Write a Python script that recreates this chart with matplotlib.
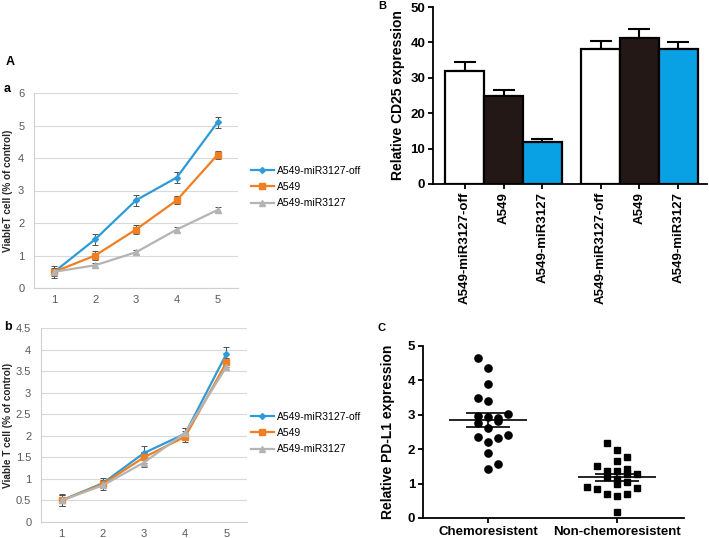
import numpy as np
import matplotlib
matplotlib.use("Agg")
import matplotlib.pyplot as plt

plt.rcParams['font.family'] = ['Liberation Sans', 'DejaVu Sans']

# ---- panel A (a, b): viable T cells ----
days = [1, 2, 3, 4, 5]
series_names = ["A549-miR3127-off", "A549", "A549-miR3127"]
line_colors = ["#2E9BD9", "#F07F22", "#B4B4B4"]
line_markers = ["D", "s", "^"]
marker_sizes = [3, 5, 4.5]

viable_a = [[0.5, 1.5, 2.7, 3.4, 5.1],
            [0.5, 1.0, 1.8, 2.7, 4.1],
            [0.5, 0.7, 1.1, 1.8, 2.4]]
err_a = [[0.12, 0.17, 0.17, 0.17, 0.17],
         [0.10, 0.14, 0.13, 0.12, 0.13],
         [0.18, 0.08, 0.08, 0.08, 0.08]]

viable_b = [[0.5, 0.9, 1.6, 2.05, 3.9],
            [0.5, 0.88, 1.5, 1.98, 3.7],
            [0.5, 0.85, 1.38, 2.07, 3.6]]
err_b = [[0.13, 0.12, 0.16, 0.13, 0.15],
         [0.12, 0.10, 0.12, 0.13, 0.10],
         [0.14, 0.10, 0.10, 0.12, 0.08]]

# ---- panel B: CD25 ----
cd25_labels = ["A549-miR3127-off", "A549", "A549-miR3127"] * 2
cd25 = [32, 25, 12, 38, 41.3, 38]
cd25_err = [2.4, 1.5, 0.8, 2.3, 2.6, 2.2]
bar_colors = ["white", "#231815", "#0AA0E4"] * 2

# ---- panel C: PD-L1 ----
groups = ["Chemoresistent", "Non-chemoresistent"]
chemo = [4.64, 4.35, 3.89, 3.50, 3.40, 3.02, 2.97, 2.95, 2.92, 2.77,
         2.83, 2.61, 2.35, 2.32, 2.41, 2.22, 1.90, 1.56, 1.42]
chemo_slot = [-1, 0, 0, -1, 0, 2, -1, 0, 1, -1, 1, 0, -1, 1, 2, 0, 0, 1, 0]
nonchemo = [2.17, 1.98, 1.76, 1.67, 1.50, 1.37, 1.36, 1.42, 1.27, 1.18,
            1.14, 1.28, 1.00, 1.05, 0.91, 0.83, 0.88, 0.69, 0.64, 0.70, 0.17]
nonchemo_slot = [-1, 0, 1, 0, -2, -1, 0, 1, 2, -1, 0, 1, 0, 1, -3, -2, 2, -1, 0, 1, 0]

fig = plt.figure(figsize=(7.09, 5.38), dpi=100)
W, H = 709.0, 538.0


def box(l, r, t, b):
    return [l / W, 1 - b / H, (r - l) / W, (b - t) / H]


def line_panel(ax, data, errs, ymax, ystep, ylabel, labx, leg_y):
    for k in range(len(series_names)):
        ax.errorbar(days, data[k], yerr=errs[k], fmt='none', ecolor='#505050',
                    elinewidth=0.7, capsize=2, capthick=0.7, zorder=3)
        ax.plot(days, data[k], color=line_colors[k], marker=line_markers[k],
                markersize=marker_sizes[k], lw=1.6, label=series_names[k], zorder=4)
    ax.set_xlim(0.5, 5.5)
    ax.set_ylim(0, ymax)
    ax.set_yticks(np.arange(0, ymax + 0.01, ystep))
    ax.set_yticklabels([f"{v:g}" for v in np.arange(0, ymax + 0.01, ystep)])
    ax.set_xticks(days)
    ax.grid(axis='y', color='#D9D9D9', lw=0.8)
    ax.set_axisbelow(True)
    for s in ['top', 'right']:
        ax.spines[s].set_visible(False)
    for s in ['left', 'bottom']:
        ax.spines[s].set_color('#D0D0D0')
        ax.spines[s].set_linewidth(0.8)
    ax.tick_params(length=0, labelsize=8, labelcolor='#595959')
    ax.tick_params(axis='y', pad=7)
    ax.tick_params(axis='x', pad=5)
    ax.set_ylabel(ylabel, fontsize=7.2, fontweight='bold', color='#262626')
    ax.yaxis.set_label_coords(labx, 0.5)
    ax.legend(loc='center left', bbox_to_anchor=(251 / W, 1 - leg_y / H),
              bbox_transform=fig.transFigure, frameon=False, fontsize=7.5,
              handlelength=2.2, handletextpad=0.3, labelspacing=0.6,
              borderpad=0, borderaxespad=0)


ax_a = fig.add_axes(box(34, 238, 93, 288))
line_panel(ax_a, viable_a, err_a, 6, 1, "ViableT cell (% of control)", -0.105, 187)

ax_b = fig.add_axes(box(41, 247, 328, 522))
line_panel(ax_b, viable_b, err_b, 4.5, 0.5, "Viable T cell (% of control)", -0.138, 433)

fig.text(6 / W, 1 - 62 / H, "A", fontsize=9, fontweight='bold', va='center')
fig.text(4 / W, 1 - 89 / H, "a", fontsize=9, fontweight='bold', va='center')
fig.text(4 / W, 1 - 327 / H, "b", fontsize=9, fontweight='bold', va='center')

# ---- B bars ----
ax2 = fig.add_axes(box(433, 707, 7, 184))
xpos = [g * 3.5 + i for g in range(2) for i in range(3)]
ax2.bar(xpos, cd25, width=1.0, color=bar_colors, edgecolor='black', lw=1.6, zorder=2)
ax2.errorbar(xpos, cd25, yerr=[np.zeros(len(cd25)), cd25_err], fmt='none',
             ecolor='black', elinewidth=1.5, capsize=8, capthick=1.5, zorder=1)
ax2.set_xlim(-0.82, 6.24)
ax2.set_ylim(0, 50)
ax2.set_yticks([0, 10, 20, 30, 40, 50])
ax2.set_xticks(xpos)
ax2.set_xticklabels(cd25_labels, rotation=90, fontsize=9.5, fontweight='bold')
for s in ['top', 'right']:
    ax2.spines[s].set_visible(False)
for s in ['left', 'bottom']:
    ax2.spines[s].set_linewidth(1.3)
ax2.tick_params(width=1.3, length=3.5, pad=2)
ax2.tick_params(axis='y', labelsize=9.5)
for t in ax2.get_yticklabels():
    t.set_fontweight('bold')
ax2.set_ylabel("Relative CD25 expression", fontsize=10, fontweight='bold')
ax2.yaxis.set_label_coords(-0.102, 0.5)
fig.text(378 / W, 1 - 6 / H, "B", fontsize=8, fontweight='bold', va='center')

# ---- C scatter ----
ax3 = fig.add_axes(box(423, 684, 346, 518))
step = 0.078
for gi, (vals, slots, mk, ms) in enumerate([(chemo, chemo_slot, 'o', 5.2),
                                             (nonchemo, nonchemo_slot, 's', 4.6)]):
    xs = gi + np.array(slots) * step
    ax3.plot(xs, vals, linestyle='none', marker=mk, markersize=ms, color='black', zorder=3)
    m = np.mean(vals)
    sem = np.std(vals, ddof=1) / np.sqrt(len(vals))
    ax3.hlines(m, gi - 0.3, gi + 0.3, color='black', lw=1.2, zorder=4)
    ax3.errorbar([gi], [m], yerr=[sem], fmt='none', ecolor='black',
                 elinewidth=1.2, capsize=15.5, capthick=1.2, zorder=4)
ax3.set_xlim(-0.504, 1.52)
ax3.set_ylim(0, 5)
ax3.set_yticks([0, 1, 2, 3, 4, 5])
ax3.set_xticks([0, 1])
ax3.set_xticklabels(groups, fontsize=9.5, fontweight='bold')
for s in ['top', 'right']:
    ax3.spines[s].set_visible(False)
for s in ['left', 'bottom']:
    ax3.spines[s].set_linewidth(1.3)
ax3.tick_params(width=1.3, length=3.5, pad=2)
ax3.tick_params(axis='y', labelsize=9.5)
for t in ax3.get_yticklabels():
    t.set_fontweight('bold')
ax3.set_ylabel("Relative PD-L1 expression", fontsize=10, fontweight='bold')
ax3.yaxis.set_label_coords(-0.107, 0.5)
fig.text(378 / W, 1 - 328 / H, "C", fontsize=8, fontweight='bold', va='center')

fig.savefig("out.png", dpi=100)
